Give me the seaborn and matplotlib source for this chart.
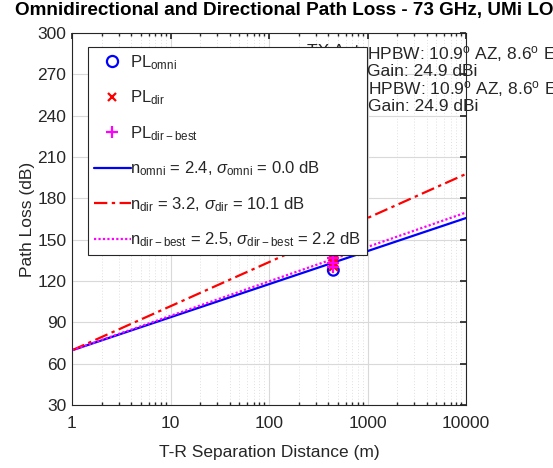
import numpy as np
import pandas as pd
import matplotlib
matplotlib.use("Agg")
import matplotlib.pyplot as plt
import seaborn as sns
from matplotlib.lines import Line2D

# ---- data ----
fit_dist = [1, 10000]                 # m, end points of the fitted lines
fit_omni = [69.7, 165.7]              # dB, n = 2.4
fit_dir = [69.7, 197.7]               # dB, n = 3.2
fit_dir_best = [69.7, 169.7]          # dB, n = 2.5

meas_dist_omni = [450]
meas_pl_omni = [127.8]
meas_dist_dir = [450, 450, 450, 450]
meas_pl_dir = [131.0, 133.5, 136.0, 138.0]
meas_dist_best = [450, 450, 450]
meas_pl_best = [130.5, 133.0, 136.5]

y_ticks = [30, 60, 90, 120, 150, 180, 210, 240, 270, 300]
x_ticks = [1, 10, 100, 1000, 10000]

sns.set_theme(style="white")
plt.rcParams['font.family'] = ['Liberation Sans', 'DejaVu Sans']
plt.rcParams['mathtext.fontset'] = 'custom'
plt.rcParams['mathtext.rm'] = 'Liberation Sans'
plt.rcParams['mathtext.it'] = 'Liberation Sans:italic'

fig = plt.figure(figsize=(5.53, 4.68), dpi=100)
ax = fig.add_axes([72/553, 63/468, 394/553, 372/468])

df_lines = pd.DataFrame({
    'd': fit_dist * 3,
    'pl': fit_omni + fit_dir + fit_dir_best,
    'kind': ['omni'] * 2 + ['dir'] * 2 + ['best'] * 2,
})
sns.lineplot(data=df_lines[df_lines.kind == 'omni'], x='d', y='pl', ax=ax,
             color='#0000ff', lw=1.6, linestyle='-', legend=False)
sns.lineplot(data=df_lines[df_lines.kind == 'dir'], x='d', y='pl', ax=ax,
             color='#ff0000', lw=1.6, linestyle=(0, (6, 2, 1.5, 2)), legend=False)
sns.lineplot(data=df_lines[df_lines.kind == 'best'], x='d', y='pl', ax=ax,
             color='#ff00ff', lw=1.6, linestyle=(0, (1, 1)), legend=False)

sns.scatterplot(x=meas_dist_omni, y=meas_pl_omni, ax=ax, marker='o', s=60,
                facecolor='none', edgecolor='#0000ff', linewidth=1.6, zorder=3)
sns.scatterplot(x=meas_dist_dir, y=meas_pl_dir, ax=ax, marker='x', s=40,
                color='#ff0000', linewidth=1.6, zorder=3)
sns.scatterplot(x=meas_dist_best, y=meas_pl_best, ax=ax, marker='+', s=70,
                color='#ff00ff', linewidth=1.6, zorder=4)

ax.set_xscale('log')
ax.set_xlim(1, 10000)
ax.set_ylim(30, 300)
ax.set_xticks(x_ticks)
ax.set_xticklabels([str(v) for v in x_ticks])
ax.set_yticks(y_ticks)
ax.set_yticklabels([str(v) for v in y_ticks])
ax.tick_params(axis='both', which='major', direction='in', length=4,
               labelsize=12.5, colors='#262626')
ax.tick_params(axis='x', which='major', pad=8, top=True)
ax.tick_params(axis='y', which='major', pad=4, right=True)
ax.tick_params(axis='x', which='minor', direction='in', length=2.5, bottom=True, top=True)
ax.grid(True, which='major', color='#d9d9d9', lw=0.8, ls='-')
ax.grid(True, which='minor', axis='x', color='#e0e0e0', lw=0.7, ls=(0, (1, 2)))
for s in ax.spines.values():
    s.set_color('#262626')
    s.set_linewidth(0.8)
ax.set_xlabel('T-R Separation Distance (m)', fontsize=12.5, color='#262626', labelpad=10)
ax.set_ylabel('Path Loss (dB)', fontsize=12.5, color='#262626', labelpad=2)

fig.text(15/553, 1 - 11/468, 'Omnidirectional and Directional Path Loss - 73 GHz, UMi LOS',
         fontsize=13.6, fontweight='bold', ha='left', va='center', color='black')

# antenna annotations (partly hidden by the legend)
def yval(py):
    return 300 - (py - 33) / (372 / 270)

def xval(px):
    return 10 ** ((px - 72) / 98.5)

ann_kw = dict(fontsize=12.5, ha='left', va='top', color='#262626',
              linespacing=1.0, zorder=1, clip_on=False)
ax.text(xval(307), yval(44), 'TX Ant:', **ann_kw)
ax.text(xval(367), yval(44),
        'HPBW: 10.9$^{\\rm o}$ AZ, 8.6$^{\\rm o}$ EL\nGain: 24.9 dBi', **ann_kw)
ax.text(xval(307), yval(79), 'RX Ant:', **ann_kw)
ax.text(xval(368), yval(79),
        'HPBW: 10.9$^{\\rm o}$ AZ, 8.6$^{\\rm o}$ EL\nGain: 24.9 dBi', **ann_kw)

handles = [
    Line2D([], [], ls='none', marker='o', mfc='none', mec='#0000ff', mew=1.6, ms=8),
    Line2D([], [], ls='none', marker='x', color='#ff0000', mew=1.6, ms=6),
    Line2D([], [], ls='none', marker='+', color='#ff00ff', mew=1.6, ms=8),
    Line2D([], [], color='#0000ff', lw=1.6),
    Line2D([], [], color='#ff0000', lw=1.6, ls=(0, (6, 2, 1.5, 2))),
    Line2D([], [], color='#ff00ff', lw=1.6, ls=(0, (1, 1))),
]
labels = [
    'PL$_{\\rm omni}$',
    'PL$_{\\rm dir}$',
    'PL$_{\\rm dir-best}$',
    'n$_{\\rm omni}$ = 2.4, $\\sigma_{\\rm omni}$ = 0.0 dB',
    'n$_{\\rm dir}$ = 3.2, $\\sigma_{\\rm dir}$ = 10.1 dB',
    'n$_{\\rm dir-best}$ = 2.5, $\\sigma_{\\rm dir-best}$ = 2.2 dB',
]
leg = ax.legend(handles, labels, loc='upper left',
                bbox_to_anchor=((88-72)/394, (405-47)/372), borderaxespad=0,
                fontsize=12, frameon=True, fancybox=False, handlelength=2.2,
                handletextpad=0.0, labelspacing=1.01, borderpad=0.35)
leg.get_frame().set_edgecolor('#262626')
leg.get_frame().set_linewidth(0.8)
leg.get_frame().set_facecolor('white')
leg.get_frame().set_alpha(1)
leg.set_zorder(10)

fig.savefig('out.png', dpi=100)
